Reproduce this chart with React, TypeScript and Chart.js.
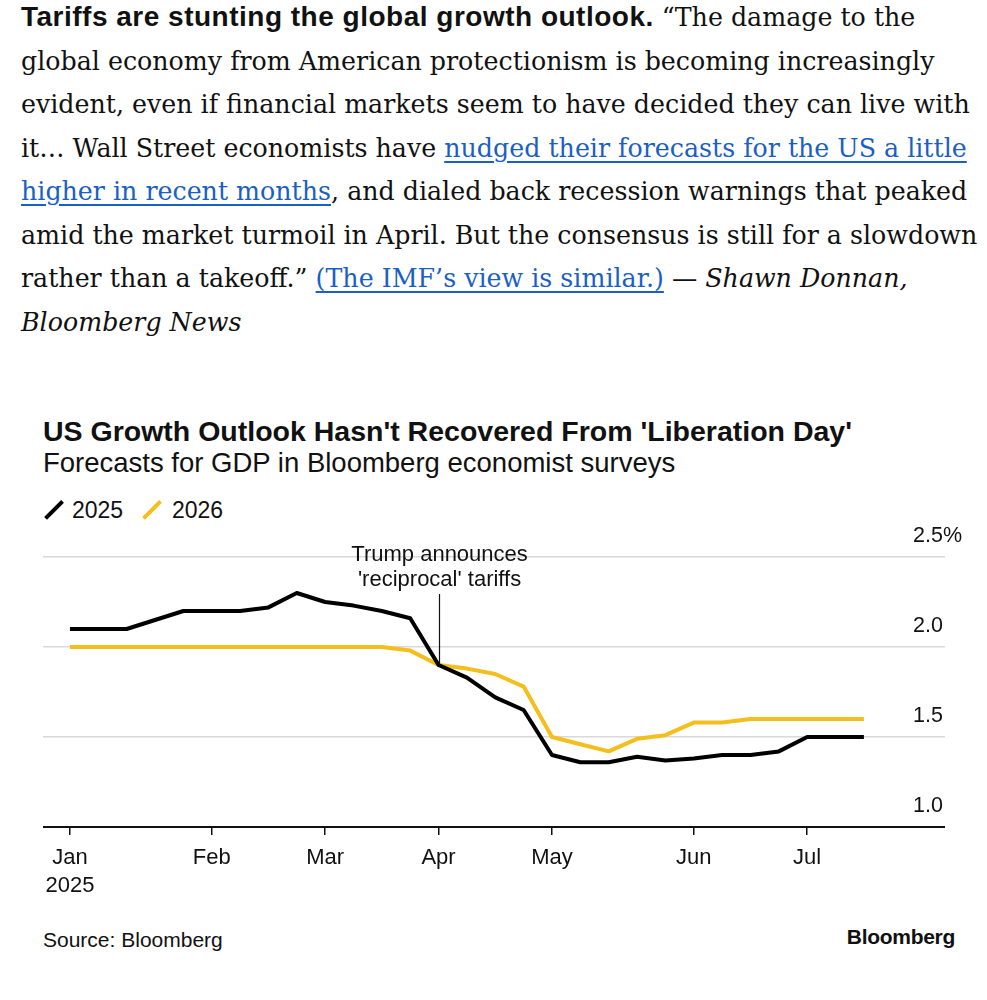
import React, { useEffect, useRef } from 'react';
import { Chart, registerables } from 'chart.js';

Chart.register(...registerables);

// ---- Data ----
const weeks = [
  'Jan 3', 'Jan 10', 'Jan 17', 'Jan 24', 'Jan 31',
  'Feb 7', 'Feb 14', 'Feb 21', 'Feb 28',
  'Mar 7', 'Mar 14', 'Mar 21', 'Mar 28',
  'Apr 4', 'Apr 11', 'Apr 18', 'Apr 25',
  'May 2', 'May 9', 'May 16', 'May 23', 'May 30',
  'Jun 6', 'Jun 13', 'Jun 20', 'Jun 27',
  'Jul 4', 'Jul 11', 'Jul 18',
];
const gdp2025 = [
  2.1, 2.1, 2.1, 2.15, 2.2,
  2.2, 2.2, 2.22, 2.3,
  2.25, 2.23, 2.2, 2.16,
  1.9, 1.83, 1.72, 1.65,
  1.4, 1.36, 1.36, 1.39, 1.37,
  1.38, 1.4, 1.4, 1.42,
  1.5, 1.5, 1.5,
];
const gdp2026 = [
  2.0, 2.0, 2.0, 2.0, 2.0,
  2.0, 2.0, 2.0, 2.0,
  2.0, 2.0, 2.0, 1.98,
  1.9, 1.88, 1.85, 1.78,
  1.5, 1.46, 1.42, 1.49, 1.51,
  1.58, 1.58, 1.6, 1.6,
  1.6, 1.6, 1.6,
];
const seriesNames = ['2025', '2026'];
const yTickValues = [1.0, 1.5, 2.0, 2.5];
const firstYearLabel = '2025';
const annotationWeek = 'Apr 4';
const annotationLines = ['Trump announces', "'reciprocal' tariffs"];

const BLACK = '#000000';
const YELLOW = '#f4bf1c';
const SANS = '"Liberation Sans", Arial, Helvetica, sans-serif';

const monthTickIdx = weeks
  .map((w, i) => (i === 0 || w.split(' ')[0] !== weeks[i - 1].split(' ')[0] ? i : -1))
  .filter((i) => i >= 0);

const annotationPlugin = {
  id: 'tariffAnnotation',
  afterDatasetsDraw(chart: any) {
    const xs = chart.scales.x;
    const ys = chart.scales.y;
    const idx = weeks.indexOf(annotationWeek);
    const x = xs.getPixelForValue(idx);
    const yPt = ys.getPixelForValue(gdp2025[idx]);
    const yTop = ys.getPixelForValue(2.5);
    const ctx = chart.ctx;
    ctx.save();
    ctx.strokeStyle = '#111';
    ctx.lineWidth = 1.2;
    ctx.beginPath();
    ctx.moveTo(Math.round(x) + 0.5, yTop + 37);
    ctx.lineTo(Math.round(x) + 0.5, yPt);
    ctx.stroke();
    ctx.font = `22px ${SANS}`;
    ctx.fillStyle = '#111';
    ctx.textAlign = 'center';
    ctx.textBaseline = 'middle';
    ctx.fillText(annotationLines[0], x + 1, yTop - 2);
    ctx.fillText(annotationLines[1], x + 1, yTop + 23);
    ctx.restore();
  },
};

function GdpChart() {
  const ref = useRef<HTMLCanvasElement | null>(null);
  useEffect(() => {
    if (!ref.current) return;
    const chart = new Chart(ref.current, {
      type: 'line',
      data: {
        datasets: [
          {
            label: seriesNames[0],
            data: gdp2025.map((y, i) => ({ x: i, y })),
            borderColor: BLACK,
            borderWidth: 4,
            pointRadius: 0,
            tension: 0,
            borderJoinStyle: 'round',
          },
          {
            label: seriesNames[1],
            data: gdp2026.map((y, i) => ({ x: i, y })),
            borderColor: YELLOW,
            borderWidth: 4,
            pointRadius: 0,
            tension: 0,
            borderJoinStyle: 'round',
          },
        ],
      },
      options: {
        animation: false,
        responsive: true,
        maintainAspectRatio: false,
        layout: { padding: { left: 43, top: 37, right: 0, bottom: 0 } },
        plugins: { legend: { display: false }, tooltip: { enabled: false } },
        scales: {
          x: {
            type: 'linear',
            min: -0.95,
            max: 29.45,
            border: { display: false },
            grid: {
              drawOnChartArea: false,
              drawTicks: true,
              tickLength: 8,
              color: '#111',
              lineWidth: 1.5,
            },
            afterBuildTicks: (scale: any) => {
              scale.ticks = monthTickIdx.map((v) => ({ value: v }));
            },
            afterFit: (scale: any) => {
              scale.height = 73;
            },
            ticks: {
              autoSkip: false,
              maxRotation: 0,
              padding: 9,
              color: '#111',
              font: { family: SANS, size: 22, lineHeight: 28 / 22 },
              callback: (value: any) => {
                const m = weeks[value].split(' ')[0];
                return value === 0 ? [m, firstYearLabel] : m;
              },
            },
          },
          y: {
            type: 'linear',
            position: 'right',
            min: 1.0,
            max: 2.5,
            border: { display: false },
            afterBuildTicks: (scale: any) => {
              scale.ticks = yTickValues.map((v) => ({ value: v }));
            },
            afterFit: (scale: any) => {
              scale.width = 82;
            },
            grid: {
              drawTicks: true,
              tickLength: 40,
              color: (c: any) => (c.tick && c.tick.value === 1 ? '#111' : '#d9d9d9'),
              lineWidth: (c: any) => (c.tick && c.tick.value === 1 ? 2 : 1.5),
            },
            ticks: {
              padding: -32,
              labelOffset: -20.5,
              crossAlign: 'near',
              color: '#111',
              font: { family: SANS, size: 21.5 },
              callback: (value: any) =>
                value === 2.5 ? `${Number(value).toFixed(1)}%` : Number(value).toFixed(1),
            },
          },
        },
      },
      plugins: [annotationPlugin],
    } as any);
    return () => chart.destroy();
  }, []);
  return <canvas ref={ref} />;
}

const linkStyle: React.CSSProperties = {
  color: '#1b5fc4',
  textDecoration: 'underline',
  textDecorationThickness: '1.5px',
  textUnderlineOffset: '4px',
};

export default function App() {
  return (
    <div
      style={{
        position: 'absolute',
        left: 0,
        top: 0,
        width: 987,
        height: 1000,
        background: '#fff',
        overflow: 'hidden',
        color: '#111',
      }}
    >
      <div
        style={{
          position: 'absolute',
          left: 21,
          top: -4,
          fontFamily: '"DejaVu Serif", serif',
          fontSize: 25.3,
          lineHeight: '43.5px',
          whiteSpace: 'nowrap',
          color: '#111',
        }}
      >
        <span style={{ fontFamily: SANS, fontWeight: 700, fontSize: 28, letterSpacing: 0.5, lineHeight: 1 }}>
          Tariffs are stunting the global growth outlook.
        </span>{' '}
        “The damage to the
        <br />
        global economy from American protectionism is becoming increasingly
        <br />
        evident, even if financial markets seem to have decided they can live with
        <br />
        it… Wall Street economists have{' '}
        <span style={linkStyle}>nudged their forecasts for the US a little</span>
        <br />
        <span style={linkStyle}>higher in recent months</span>, and dialed back recession warnings that peaked
        <br />
        amid the market turmoil in April. But the consensus is still for a slowdown
        <br />
        rather than a takeoff.” <span style={linkStyle}>(The IMF’s view is similar.)</span> —{' '}
        <i>Shawn Donnan,</i>
        <br />
        <i>Bloomberg News</i>
      </div>

      <div
        style={{
          position: 'absolute',
          left: 43,
          top: 417,
          fontFamily: SANS,
          fontWeight: 700,
          fontSize: 28.5,
          lineHeight: '28px',
          whiteSpace: 'nowrap',
        }}
      >
        US Growth Outlook Hasn't Recovered From 'Liberation Day'
      </div>
      <div
        style={{
          position: 'absolute',
          left: 43,
          top: 449,
          fontFamily: SANS,
          fontSize: 27.5,
          lineHeight: '27px',
          whiteSpace: 'nowrap',
        }}
      >
        Forecasts for GDP in Bloomberg economist surveys
      </div>

      <div style={{ position: 'absolute', left: 51.75, top: 497.5, width: 4.2, height: 24, background: BLACK, transform: 'rotate(45deg)' }} />
      <div style={{ position: 'absolute', left: 72, top: 499, fontFamily: SANS, fontSize: 23, lineHeight: '23px' }}>
        {seriesNames[0]}
      </div>
      <div style={{ position: 'absolute', left: 149.75, top: 497.5, width: 4.2, height: 24, background: YELLOW, transform: 'rotate(45deg)' }} />
      <div style={{ position: 'absolute', left: 172, top: 499, fontFamily: SANS, fontSize: 23, lineHeight: '23px' }}>
        {seriesNames[1]}
      </div>

      <div style={{ position: 'absolute', left: 0, top: 520, width: 987, height: 380 }}>
        <GdpChart />
      </div>

      <div style={{ position: 'absolute', left: 43, top: 929, fontFamily: SANS, fontSize: 21, lineHeight: '21px' }}>
        Source: Bloomberg
      </div>
      <div
        style={{
          position: 'absolute',
          right: 32,
          top: 926,
          fontFamily: SANS,
          fontWeight: 700,
          fontSize: 21,
          lineHeight: '21px',
          letterSpacing: -0.3,
        }}
      >
        Bloomberg
      </div>
    </div>
  );
}
